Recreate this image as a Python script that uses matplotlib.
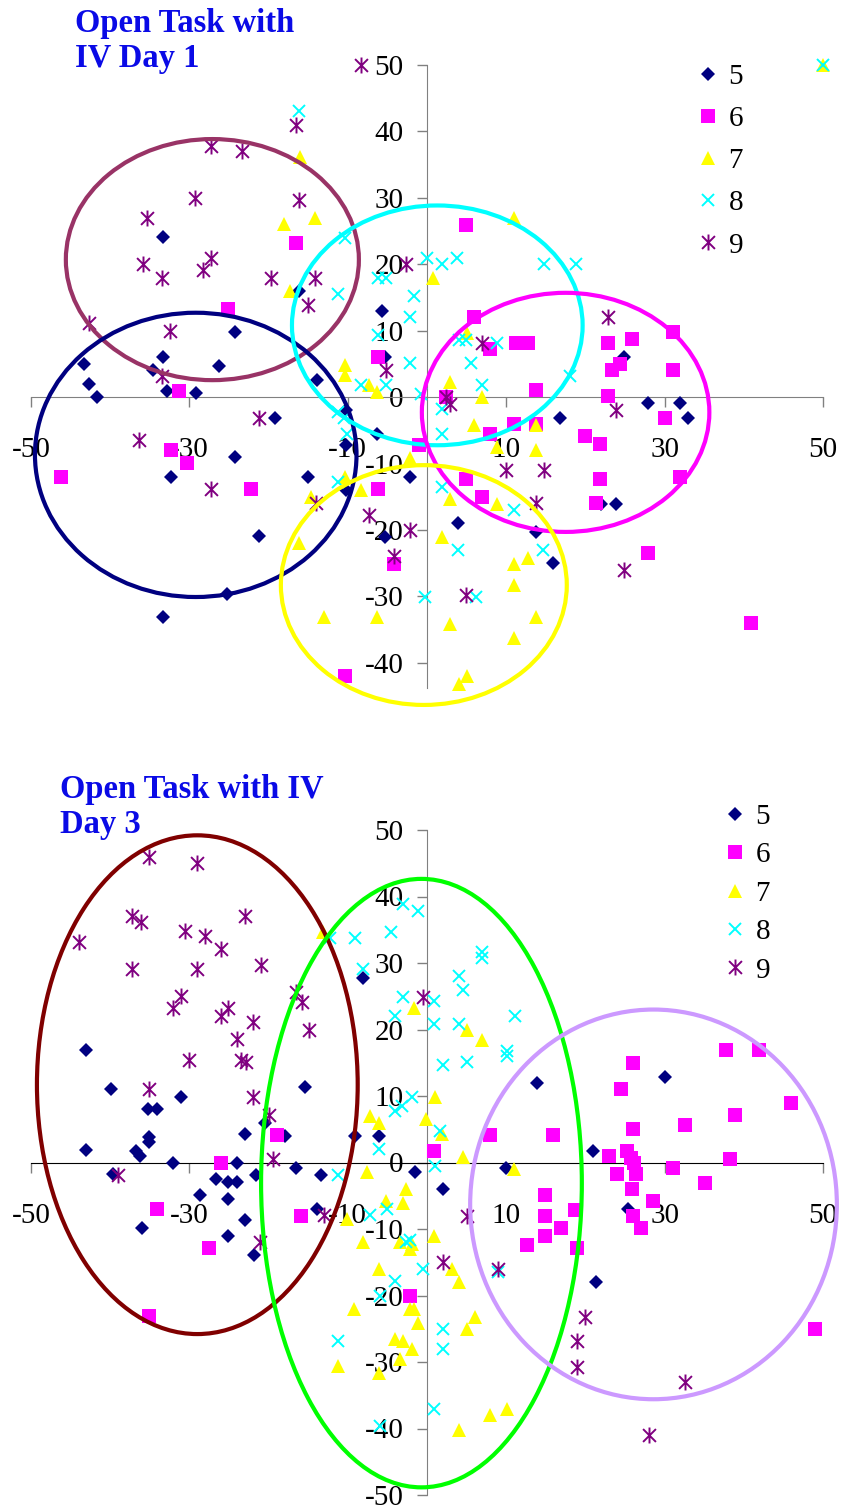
import matplotlib
matplotlib.use('Agg')
import matplotlib.pyplot as plt
from matplotlib.patches import Ellipse
from matplotlib.path import Path
from matplotlib.lines import Line2D

plt.rcParams['axes.unicode_minus'] = False

# ---- Day 1 data ----
d1_s5_x = [-33.3, -24.2, -33.3, -43.3, -42.7, -41.7, -34.6, -32.8, -29.2, -26.2, -19.2, -24.2, -32.3, -21.2, -25.2,
           -33.3, -16.1, -5.7, -5.3, -13.9, -10.2, -6.3, -10.2, -15.0, -2.2, -10.2, 3.9, -5.3, 13.8, 15.9, 16.8,
           24.9, 27.9, 32.0, 33.0, 22.0, 23.9]
d1_s5_y = [24.1, 9.8, 6.0, 5.0, 2.0, 0.0, 4.1, 0.9, 0.6, 4.7, -3.1, -9.0, -12.0, -20.9, -29.6,
           -33.1, 16.0, 13.0, 6.0, 2.6, -2.0, -5.5, -7.2, -12.0, -12.0, -14.0, -19.0, -21.0, -20.3, -25.0, -3.1,
           6.1, -0.9, -0.9, -3.1, -16.1, -16.1]
d1_s6_x = [-25.1, -31.3, -32.3, -30.3, -46.2, -22.2, 4.9, -16.6, 5.9, 7.9, 11.2, 12.7, -6.2, 31.0, 22.9, 25.9,
           23.4, 24.4, 31.0, 22.9, 30.0, 19.9, 21.9, 21.9, 21.4, 32.0, 27.9, 40.9, -1.0, 4.9, 7.0, -6.2, -4.2,
           -10.3, 2.4, 7.9, 11.0, 13.8, 13.8]
d1_s6_y = [13.2, 0.9, -8.0, -9.9, -12.0, -13.9, 25.9, 23.2, 12.1, 7.3, 8.1, 8.1, 6.1, 9.8, 8.1, 8.7,
           4.1, 5.0, 4.1, 0.2, -3.1, -5.9, -7.1, -12.3, -16.0, -12.0, -23.4, -34.0, -7.2, -12.3, -15.0, -13.9, -25.1,
           -42.0, 0.0, -5.5, -4.0, -4.0, 1.0]
d1_s7_x = [-16.0, -18.1, -14.1, 11.0, 0.8, -17.3, 5.0, -10.3, -10.3, -7.3, -6.3, 2.9, 7.0, 5.9, 13.7, 8.9, 13.7,
           -2.2, -10.3, -8.3, -14.7, 2.9, 8.9, 1.9, -16.1, 11.0, 12.8, 11.0, -13.0, -6.3, 2.9, 13.7, 11.0, 5.0,
           4.1, 50.0]
d1_s7_y = [36.2, 26.1, 26.9, 26.9, 17.9, 16.0, 9.6, 4.8, 3.3, 1.8, 0.8, 2.3, 0.0, -4.2, -4.2, -7.5, -8.0,
           -9.2, -12.0, -14.0, -15.0, -15.3, -16.1, -21.0, -22.0, -25.1, -24.2, -28.3, -33.1, -33.1, -34.1, -33.1,
           -36.2, -42.0, -43.2, 50.0]
d1_s8_x = [-16.1, -10.3, -11.3, -6.2, -5.2, -1.6, -2.2, 0.0, 1.9, 3.8, 14.8, -6.2, 4.1, 4.9, 8.9, 18.8, 50.0,
           -2.2, -8.3, -5.2, -0.8, 5.5, 6.9, 18.0, 1.9, -11.3, -10.5, 1.9, -10.1, -11.3, 1.9, 11.0, 3.9, 14.7,
           -0.2, 6.2]
d1_s8_y = [43.0, 24.0, 15.5, 17.9, 17.9, 15.2, 12.1, 21.0, 20.1, 21.0, 20.1, 9.3, 8.6, 8.6, 8.1, 20.0, 50.0,
           5.1, 1.8, 1.8, 0.5, 5.1, 1.8, 3.1, -1.8, -2.2, -3.2, -5.5, -5.5, -12.8, -13.5, -17.0, -23.0, -23.0,
           -30.1, -30.1]
d1_s9_x = [-8.3, -16.6, -16.1, -2.7, -14.1, -15.0, 6.9, -27.3, -23.3, -29.3, -35.3, -35.9, -33.4, -28.3, -27.3,
           -19.7, -42.7, -32.4, -33.4, -21.2, -36.4, -27.3, -5.2, 2.4, 2.9, 10.0, 14.8, 13.8, -14.0, -7.3, -2.2,
           -4.2, 4.9, 23.9, 24.9, 22.9]
d1_s9_y = [50.0, 41.0, 29.7, 20.1, 17.9, 13.9, 8.1, 37.8, 37.1, 30.0, 26.9, 20.1, 18.0, 19.1, 21.0,
           18.0, 11.2, 9.9, 3.1, -3.1, -6.4, -13.9, 4.1, 0.0, -1.0, -11.0, -11.0, -16.0, -16.0, -17.8, -20.0,
           -24.0, -29.8, -1.9, -26.0, 12.1]

# ---- Day 3 data ----
d3_s5_x = [-43.0, -39.9, -31.1, -35.2, -34.1, -20.5, -23.0, -35.1, -8.1, -15.4, 13.9, -17.9, -9.1, -6.1, -43.0,
           -36.7, -36.2, -35.1, -32.1, -39.7, -24.0, -26.6, -25.1, -24.0, -21.6, -16.5, -13.4, -28.7, -25.1, -23.0,
           -13.9, -36.0, -25.1, -21.9, -1.5, 2.0, 10.0, 20.9, 25.4, 21.4, 30.1]
d3_s5_y = [16.9, 11.1, 9.9, 8.0, 8.0, 6.0, 4.3, 3.8, 27.8, 11.4, 12.0, 4.0, 4.0, 4.0, 1.9,
           1.7, 1.0, 3.1, 0.0, -1.8, 0.0, -2.5, -3.0, -3.0, -1.9, -0.9, -1.9, -4.9, -5.5, -8.6,
           -7.0, -9.9, -11.1, -13.9, -1.5, -4.0, -0.9, 1.8, -7.0, -18.0, 12.9]
d3_s6_x = [-26.0, -34.1, -27.5, -35.1, -15.9, -19.0, -2.1, 0.9, 8.0, 15.9, 23.0, 25.2, 25.7, 26.1, 24.0, 26.4,
           25.9, 31.0, 35.1, 38.3, 28.5, 26.0, 27.0, 14.9, 14.9, 18.7, 16.9, 14.9, 12.6, 18.9, 49.0, 26.0, 24.5,
           26.0, 32.6, 37.8, 41.9, 45.9, 38.9]
d3_s6_y = [0.0, -7.0, -12.9, -23.1, -8.0, 4.1, -20.1, 1.8, 4.1, 4.1, 1.0, 1.7, 0.7, 0.0, -1.8, -1.8,
           -4.0, -0.9, -3.1, 0.6, -5.8, -8.1, -9.8, -4.9, -8.1, -7.1, -9.9, -11.1, -12.4, -12.9, -25.0, 15.0, 11.1,
           5.0, 5.6, 16.9, 16.9, 9.0, 7.1]
d3_s7_x = [-13.1, -1.6, 5.0, 7.0, 1.0, -7.2, -6.1, -0.1, 1.9, 4.5, 11.0, 0.9, -1.9, 3.1, 4.1, 6.1, 5.1, -1.1,
           -1.7, 10.1, 8.0, 4.1, -1.9, -7.6, -2.6, -5.2, -3.0, -10.1, -8.1, -3.4, -2.1, -6.1, -9.2, -2.1, -4.0,
           -3.0, -11.2, -6.1, -3.4]
d3_s7_y = [34.6, 23.2, 19.9, 18.4, 9.8, 7.0, 5.9, 6.5, 4.3, 0.9, -1.0, -11.1, -12.3, -16.0, -18.0, -23.2, -25.1,
           -24.1, -22.1, -37.1, -38.0, -40.2, -28.1, -1.5, -4.0, -5.8, -6.1, -8.5, -12.0, -12.0, -13.0, -16.0,
           -22.1, -22.1, -26.6, -26.8, -30.6, -31.6, -29.6]
d3_s8_x = [-3.0, -1.1, -12.2, -9.1, -4.6, -8.1, -3.0, -4.0, 0.9, 0.9, 4.1, 4.5, 4.0, 7.0, 7.0, 11.1, 10.1, 10.1,
           2.0, 5.0, -1.9, -3.1, -4.0, 1.6, 1.0, -0.5, 2.0, 2.0, 0.9, 9.0, -2.1, -6.1, -11.2, -7.2, -5.1, -2.6,
           -4.0, -5.9, -11.2, -5.9]
d3_s8_y = [38.8, 37.8, 33.8, 33.8, 34.6, 29.1, 24.9, 22.0, 24.3, 20.9, 28.1, 26.0, 20.9, 31.7, 30.7, 22.0, 16.8,
           16.0, 14.6, 15.1, 9.8, 8.5, 7.8, 4.8, -0.5, -16.0, -25.0, -28.0, -37.1, -16.5, -11.6, 2.0, -1.9, -7.9,
           -7.0, -12.0, -17.8, -20.1, -26.8, -39.6]
d3_s9_x = [-35.1, -29.1, -44.0, -37.2, -36.1, -23.0, -30.6, -28.0, -26.0, -37.2, -29.1, -21.0, -31.1, -32.1,
           -25.1, -26.0, -22.0, -24.0, -30.1, -23.5, -22.9, -35.1, -22.0, -19.9, -16.5, -15.8, -14.9, -0.5, -39.0,
           -19.5, -13.0, -21.1, 5.0, 2.0, 9.0, 19.9, 18.9, 18.9, 32.6, 28.0]
d3_s9_y = [46.0, 45.0, 33.1, 37.1, 36.1, 37.1, 34.8, 34.1, 32.1, 29.1, 29.1, 29.7, 25.0, 23.2,
           23.2, 22.0, 21.1, 18.6, 15.4, 15.4, 15.1, 11.1, 9.9, 7.1, 25.6, 24.1, 20.0, 24.9, -1.9,
           0.6, -7.9, -12.0, -8.1, -15.0, -16.0, -23.2, -26.8, -30.8, -33.0, -41.0]

series_labels = ['5', '6', '7', '8', '9']

# cluster ellipses: (centre x, centre y, width, height, colour)
d1_ellipses = [(-27.1, 20.7, 37.0, 36.3, '#993366'),
               (-29.2, -8.7, 40.6, 42.8, '#000080'),
               (1.3, 10.8, 36.7, 36.1, '#00FFFF'),
               (17.5, -2.3, 36.3, 36.0, '#FF00FF'),
               (-0.4, -28.3, 36.1, 36.1, '#FFFF00')]
d3_ellipses = [(-29.0, 11.7, 40.5, 75.0, '#800000'),
               (-0.7, -3.1, 40.5, 91.5, '#00FF00'),
               (28.6, -6.3, 46.3, 58.6, '#CC99FF')]

# Excel style asterisk marker (x plus vertical bar)
star = Path([(-0.5, -0.5), (0.5, 0.5), (-0.5, 0.5), (0.5, -0.5), (0, -0.62), (0, 0.62)],
            [Path.MOVETO, Path.LINETO, Path.MOVETO, Path.LINETO, Path.MOVETO, Path.LINETO])

styles = [dict(marker='D', color='#000080', ms=7, mew=0),
          dict(marker='s', color='#FF00FF', ms=9.5, mew=0),
          dict(marker='^', color='#FFFF00', ms=10, mew=0),
          dict(marker='x', color='#00FFFF', ms=9, mew=1.4),
          dict(marker=star, color='#800080', ms=11.5, mew=1.4, mfc='none')]

SERIF = 'Liberation Serif'


def draw_panel(ax, xs, ys, ellipses, ymin, yticks, xaxis_color):
    for (x, y), st in zip(zip(xs, ys), styles):
        ax.plot(x, y, linestyle='none', clip_on=False, zorder=3, **st)
    for cx, cy, w, h, c in ellipses:
        ax.add_patch(Ellipse((cx, cy), w, h, fill=False, edgecolor=c, lw=3, clip_on=False, zorder=4))

    ax.set_xlim(-50, 50)
    ax.set_ylim(ymin, 50)
    ax.spines['left'].set_position(('data', 0))
    ax.spines['bottom'].set_position(('data', 0))
    ax.spines['top'].set_visible(False)
    ax.spines['right'].set_visible(False)
    ax.spines['left'].set_color('#808080')
    ax.spines['bottom'].set_color(xaxis_color)
    ax.set_xticks([-50, -30, -10, 10, 30, 50])
    ax.set_yticks(yticks)
    ax.tick_params(axis='x', direction='out', length=7, width=1, color='#808080', pad=22)
    ax.tick_params(axis='y', direction='out', length=7, width=1, color='#808080', pad=10)
    for lab in ax.get_xticklabels() + ax.get_yticklabels():
        lab.set_fontfamily(SERIF)
        lab.set_fontsize(21)
    ax.patch.set_visible(False)


def legend_handles():
    return [Line2D([], [], linestyle='none', **st) for st in styles]


fig = plt.figure(figsize=(8.43, 15.12), dpi=100)

ax1 = fig.add_axes([31 / 843, 1 - 688 / 1512, 792 / 843, 623 / 1512])
draw_panel(ax1, [d1_s5_x, d1_s6_x, d1_s7_x, d1_s8_x, d1_s9_x],
           [d1_s5_y, d1_s6_y, d1_s7_y, d1_s8_y, d1_s9_y],
           d1_ellipses, -43.8, list(range(-40, 51, 10)), '#808080')

ax2 = fig.add_axes([31 / 843, 1 - 1495 / 1512, 792 / 843, 665 / 1512])
draw_panel(ax2, [d3_s5_x, d3_s6_x, d3_s7_x, d3_s8_x, d3_s9_x],
           [d3_s5_y, d3_s6_y, d3_s7_y, d3_s8_y, d3_s9_y],
           d3_ellipses, -50, list(range(-50, 51, 10)), 'black')

fig.legend(legend_handles(), series_labels, loc='upper left', bbox_to_anchor=(679 / 843, 1 - 49 / 1512),
           frameon=False, prop={'family': SERIF, 'size': 21}, labelspacing=0.54,
           handletextpad=0.2, handlelength=1.0, borderpad=0)
fig.legend(legend_handles(), series_labels, loc='upper left', bbox_to_anchor=(706 / 843, 1 - 789 / 1512),
           frameon=False, prop={'family': SERIF, 'size': 21}, labelspacing=0.41,
           handletextpad=0.2, handlelength=1.0, borderpad=0)

fig.text(75 / 843, 1 - 8 / 1512, 'Open Task with\nIV Day 1', ha='left', va='top', color='#0A0AE6',
         fontfamily=SERIF, fontweight='bold', fontsize=23.5, linespacing=1.15)
fig.text(60 / 843, 1 - 774 / 1512, 'Open Task with IV\nDay 3', ha='left', va='top', color='#0A0AE6',
         fontfamily=SERIF, fontweight='bold', fontsize=23.5, linespacing=1.15)

fig.savefig('out.png', dpi=100)
